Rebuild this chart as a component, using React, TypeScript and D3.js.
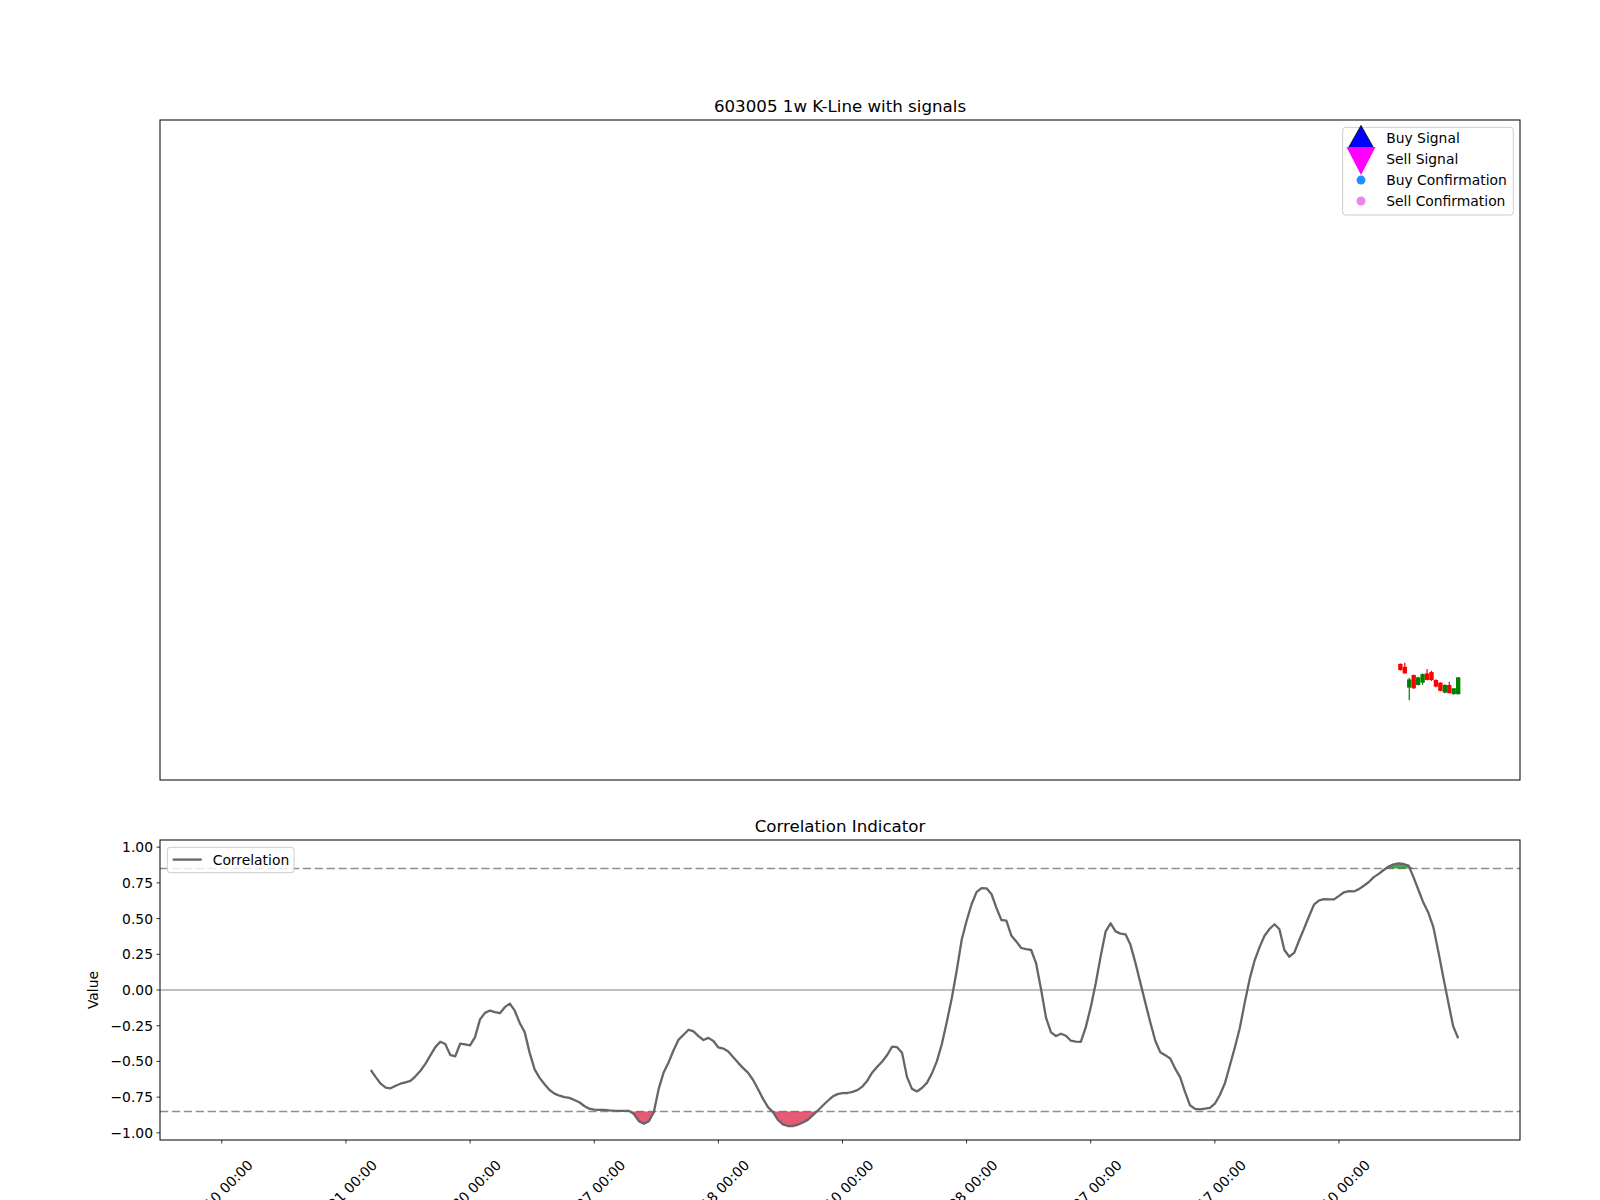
import React from 'react';
import * as d3 from 'd3';

// ---------- data ----------
const TOTAL_BARS = 250;            // bars on the correlation panel
const CORR_START = 30;             // first bar with a correlation value
const corrValues = [
  -0.56, -0.61, -0.656, -0.683, -0.688, -0.67, -0.656, -0.646, -0.636, -0.604,
  -0.565, -0.517, -0.458, -0.4, -0.362, -0.378, -0.454, -0.465, -0.376, -0.38,
  -0.387, -0.33, -0.206, -0.16, -0.144, -0.155, -0.162, -0.12, -0.095, -0.145,
  -0.231, -0.295, -0.44, -0.556, -0.615, -0.66, -0.7, -0.725, -0.74, -0.75,
  -0.755, -0.77, -0.786, -0.812, -0.831, -0.838, -0.839, -0.839, -0.843, -0.845,
  -0.846, -0.846, -0.846, -0.868, -0.918, -0.936, -0.919, -0.855, -0.69, -0.575,
  -0.505, -0.42, -0.347, -0.313, -0.278, -0.29, -0.323, -0.35, -0.335, -0.357,
  -0.402, -0.41, -0.431, -0.47, -0.51, -0.547, -0.58, -0.63, -0.695, -0.762,
  -0.82, -0.855, -0.91, -0.941, -0.952, -0.953, -0.943, -0.927, -0.909, -0.877,
  -0.845, -0.81, -0.777, -0.746, -0.729, -0.722, -0.721, -0.713, -0.701, -0.676,
  -0.635, -0.577, -0.537, -0.5, -0.455, -0.397, -0.4, -0.44, -0.61, -0.692,
  -0.71, -0.686, -0.65, -0.585, -0.5, -0.38, -0.225, -0.06, 0.135, 0.35,
  0.485, 0.6, 0.685, 0.713, 0.712, 0.672, 0.575, 0.49, 0.485, 0.382,
  0.34, 0.294, 0.286, 0.28, 0.186, 0.003, -0.195, -0.297, -0.322, -0.306,
  -0.32, -0.355, -0.361, -0.363, -0.26, -0.12, 0.045, 0.236, 0.41, 0.467,
  0.41, 0.395, 0.39, 0.316, 0.19, 0.05, -0.09, -0.227, -0.355, -0.435,
  -0.456, -0.48, -0.55, -0.61, -0.715, -0.807, -0.832, -0.836, -0.831, -0.825,
  -0.796, -0.735, -0.655, -0.53, -0.405, -0.27, -0.09, 0.076, 0.206, 0.3,
  0.38, 0.427, 0.46, 0.425, 0.28, 0.233, 0.262, 0.35, 0.433, 0.52,
  0.6, 0.627, 0.636, 0.635, 0.634, 0.659, 0.684, 0.692, 0.69, 0.706,
  0.73, 0.756, 0.79, 0.813, 0.84, 0.864, 0.88, 0.886, 0.882, 0.871,
  0.79, 0.7, 0.61, 0.54, 0.44, 0.27, 0.09, -0.085, -0.255, -0.338,
];
const UPPER = 0.85;
const LOWER = -0.85;
const TICK_STEP = 25;
const xTickLabels = [
  '2019-05-10 00:00', '2019-11-01 00:00', '2020-04-30 00:00', '2020-10-27 00:00',
  '2021-04-18 00:00', '2021-10-10 00:00', '2022-04-08 00:00', '2022-09-27 00:00',
  '2023-03-17 00:00', '2023-09-10 00:00',
];
const yTicks = [-1, -0.75, -0.5, -0.25, 0, 0.25, 0.5, 0.75, 1];

// K-line panel
const KLINE_TOTAL = 279;
const KLINE_START = 265;
const kOpen  = [33.3, 32.3, 30.5, 27.8, 31.1, 32.1, 30.3, 30.3, 28.3, 27.0, 28.8, 26.3, 27.8, 31.1];
const kClose = [35.2, 34.3, 28.0, 31.8, 28.8, 29.5, 32.3, 32.7, 30.3, 29.5, 26.5, 28.8, 26.0, 26.0];
const kHigh  = [35.3, 35.5, 31.0, 32.0, 31.3, 32.3, 33.6, 33.1, 30.5, 29.6, 29.0, 29.8, 27.9, 31.2];
const kLow   = [33.2, 32.2, 24.2, 27.6, 28.6, 28.9, 30.2, 30.0, 28.1, 26.9, 26.3, 26.2, 25.9, 25.9];

const legendLabels = ['Buy Signal', 'Sell Signal', 'Buy Confirmation', 'Sell Confirmation'];

// ---------- component ----------
const FONT = '"DejaVu Sans", sans-serif';

export default function App() {
  const W = 1600, H = 1200;
  const L = 160, R = 1520;
  const mT = 120, mB = 780;
  const cT = 840, cB = 1140;
  const margin = ((R - L) * 0.05) / 1.1;

  const xCorr = d3.scaleLinear().domain([0, TOTAL_BARS - 1]).range([L + margin, R - margin]);
  const xK = d3.scaleLinear().domain([0, KLINE_TOTAL - 1]).range([L + margin, R - margin]);
  const yCorr = d3.scaleLinear().domain([-1.05, 1.05]).range([cB, cT]);
  const yK = d3.scaleLinear().domain([0, 200]).range([mB, mT]);

  const pts = corrValues.map((v, k) => ({ i: CORR_START + k, v }));
  const line = d3.line<{ i: number; v: number }>().x(p => xCorr(p.i)).y(p => yCorr(p.v));
  const lowArea = d3.area<{ i: number; v: number }>()
    .x(p => xCorr(p.i)).y0(yCorr(LOWER)).y1(p => yCorr(Math.min(p.v, LOWER)));
  const highArea = d3.area<{ i: number; v: number }>()
    .x(p => xCorr(p.i)).y0(yCorr(UPPER)).y1(p => yCorr(Math.max(p.v, UPPER)));

  const fmt = d3.format('.2f');
  const xTicks = d3.range(0, TOTAL_BARS, TICK_STEP);
  const step = xK(1) - xK(0);
  const bodyW = step * 0.98;

  const lgX = 1361;
  const rows = [138.3, 159.2, 180.1, 201.0];

  return (
    <svg width={W} height={H} style={{ position: 'absolute', left: 0, top: 0, background: '#fff' }}
      fontFamily={FONT}>
      <rect x={0} y={0} width={W} height={H} fill="#fff" />

      {/* ===== main K-line panel ===== */}
      <text x={(L + R) / 2} y={mT - 8.3} textAnchor="middle" fontSize={16.67} fill="#000">
        603005 1w K-Line with signals
      </text>
      {kOpen.map((o, k) => {
        const c = kClose[k];
        const col = c >= o ? '#ff0000' : '#008000';
        const cx = xK(KLINE_START + k);
        const top = yK(Math.max(o, c));
        const bot = yK(Math.min(o, c));
        return (
          <g key={k}>
            <line x1={cx} x2={cx} y1={yK(kHigh[k])} y2={yK(kLow[k])} stroke={col} strokeWidth={1.2} />
            <rect x={cx - bodyW / 2} y={top} width={bodyW} height={Math.max(1, bot - top)} fill={col} />
          </g>
        );
      })}
      <rect x={L} y={mT} width={R - L} height={mB - mT} fill="none" stroke="#000" strokeWidth={1} />

      {/* main legend */}
      <rect x={1342.7} y={127.3} width={170.6} height={87.7} rx={3} fill="#fff" fillOpacity={0.8}
        stroke="#cccccc" strokeWidth={1} />
      <path d={`M${lgX},125.5 L${lgX + 13},148.5 L${lgX - 13},148.5 Z`} fill="#0000ff" stroke="#000" strokeWidth={0.8} />
      <path d={`M${lgX - 14.5},147 L${lgX + 14.5},147 L${lgX},175 Z`} fill="#ff00ff" />
      <circle cx={lgX} cy={rows[2]} r={4.5} fill="#1e90ff" />
      <circle cx={lgX} cy={rows[3]} r={4.5} fill="#ee82ee" />
      {legendLabels.map((t, k) => (
        <text key={t} x={1386.2} y={rows[k]} dominantBaseline="central" fontSize={13.89} fill="#000">{t}</text>
      ))}

      {/* ===== correlation panel ===== */}
      <text x={(L + R) / 2} y={cT - 8.3} textAnchor="middle" fontSize={16.67} fill="#000">
        Correlation Indicator
      </text>
      <line x1={L} x2={R} y1={yCorr(0)} y2={yCorr(0)} stroke="#aaaaaa" strokeWidth={1.5} />
      {[UPPER, LOWER].map(t => (
        <line key={t} x1={L} x2={R} y1={yCorr(t)} y2={yCorr(t)} stroke="#8f8f8f" strokeWidth={1.5}
          strokeDasharray="8.3 3.6" />
      ))}
      <path d={lowArea(pts) || ''} fill="#dc143c" fillOpacity={0.7} />
      <path d={highArea(pts) || ''} fill="#008000" fillOpacity={0.7} />
      <path d={line(pts) || ''} fill="none" stroke="#666666" strokeWidth={2.3} strokeLinejoin="round" />
      <rect x={L} y={cT} width={R - L} height={cB - cT} fill="none" stroke="#000" strokeWidth={1} />

      {/* y axis */}
      {yTicks.map(t => (
        <g key={t}>
          <line x1={L - 3.5} x2={L} y1={yCorr(t)} y2={yCorr(t)} stroke="#000" strokeWidth={0.8} />
          <text x={L - 7} y={yCorr(t)} textAnchor="end" dominantBaseline="central" fontSize={13.89} fill="#000">
            {fmt(t)}
          </text>
        </g>
      ))}
      <text transform={`translate(98,${yCorr(0)}) rotate(-90)`} textAnchor="middle" fontSize={13.89} fill="#000">
        Value
      </text>

      {/* x axis */}
      {xTicks.map((t, k) => (
        <g key={t}>
          <line x1={xCorr(t)} x2={xCorr(t)} y1={cB} y2={cB + 3.5} stroke="#000" strokeWidth={0.8} />
          <text transform={`translate(${xCorr(t) + 32},${cB + 26}) rotate(-45)`} textAnchor="end"
            fontSize={13.89} fill="#000">{xTickLabels[k]}</text>
        </g>
      ))}

      {/* correlation legend */}
      <rect x={167.3} y={847.3} width={126.7} height={25.4} rx={3} fill="#fff" fillOpacity={0.8}
        stroke="#cccccc" strokeWidth={1} />
      <line x1={172.7} x2={201.7} y1={859.6} y2={859.6} stroke="#666666" strokeWidth={2.3} />
      <text x={212.7} y={859.6} dominantBaseline="central" fontSize={13.89} fill="#000">Correlation</text>
    </svg>
  );
}
